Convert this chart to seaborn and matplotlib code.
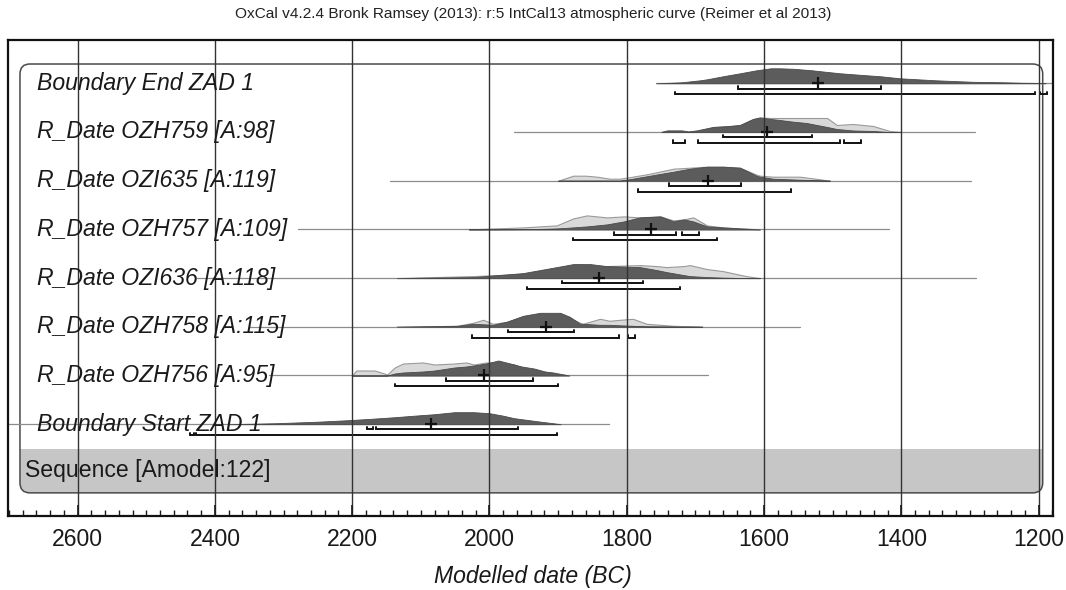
import matplotlib
matplotlib.use("Agg")
import matplotlib.pyplot as plt
import seaborn as sns
import pandas as pd
from matplotlib.patches import FancyBboxPatch, Rectangle
from matplotlib.ticker import MultipleLocator

TITLE = "OxCal v4.2.4 Bronk Ramsey (2013): r:5 IntCal13 atmospheric curve (Reimer et al 2013)"
XLABEL = "Modelled date (BC)"
SEQUENCE_LABEL = "Sequence [Amodel:122]"

LABELS = ["Boundary End ZAD 1", "R_Date OZH759 [A:98]", "R_Date OZI635 [A:119]",
          "R_Date OZH757 [A:109]", "R_Date OZI636 [A:118]", "R_Date OZH758 [A:115]",
          "R_Date OZH756 [A:95]", "Boundary Start ZAD 1"]
MEANS = [1522, 1596, 1682, 1765, 1840, 1918, 2008, 2085]
LINE_FROM = [1757, 1964, 2145, 2279, 2426, 2350, 2321, 2701]
LINE_TO = [1179, 1293, 1298, 1418, 1291, 1547, 1682, 1826]
RANGE68 = [[(1638, 1430)], [(1660, 1530)], [(1739, 1634)],
           [(1818, 1728), (1720, 1695)], [(1895, 1777)], [(1973, 1877)],
           [(2063, 1937)], [(2178, 2169), (2165, 1959)]]
RANGE95 = [[(1730, 1205), (1198, 1188)], [(1733, 1715), (1696, 1489), (1483, 1458)],
           [(1783, 1560)], [(1879, 1668)], [(1945, 1722)],
           [(2025, 1811), (1798, 1788)], [(2138, 1900)], [(2436, 2430), (2428, 1902)]]

# probability heights (pixels), unmodelled (lik) and modelled (post)
END_YEARS = [1757, 1720, 1693, 1683, 1660, 1635, 1611, 1590, 1577, 1557, 1530, 1510,
             1489, 1460, 1430, 1402, 1350, 1296, 1250, 1223, 1190]
END_POST = [0, 1, 3, 4, 7, 10, 13, 15, 15, 14.5, 13, 11.5, 10, 8.5, 7, 5, 3, 1.5, 1, 0.5, 0.3]

OZH759_YEARS = [1750, 1741, 1720, 1710, 1698, 1674, 1650, 1635, 1616, 1606, 1590, 1577,
                1560, 1538, 1508, 1494, 1470, 1441, 1417, 1400]
OZH759_LIK = [0, 1.5, 1.5, 0.5, 1.5, 5, 6, 7, 13, 14.5, 14, 14, 14, 14, 14, 7, 8, 6, 1, 0]
OZH759_POST = [0, 1.5, 1.5, 0.5, 1.5, 5, 6, 7, 13, 14.5, 13, 12, 10.5, 9, 5, 3, 1.5, 1, 0, 0]

OZI635_YEARS = [1900, 1878, 1860, 1843, 1825, 1810, 1800, 1766, 1732, 1708, 1683, 1660,
                1635, 1611, 1606, 1587, 1548, 1525, 1504]
OZI635_LIK = [0, 5, 5, 4, 2, 2, 3, 7, 12, 13, 14, 14, 13, 6, 5, 4, 4, 2, 0]
OZI635_POST = [0, 0, 0, 0, 0, 0, 1, 5, 9, 12, 14, 14, 13, 5, 4, 2, 1, 0.5, 0]

OZH757_YEARS = [2030, 1951, 1926, 1902, 1878, 1858, 1829, 1804, 1781, 1751, 1732, 1717,
                1703, 1683, 1660, 1635, 1606]
OZH757_LIK = [0, 2, 3, 4, 11, 14, 12, 13, 12, 13, 9, 10, 12, 4, 2, 1, 0]
OZH757_POST = [0, 0.3, 0.5, 1, 2, 3, 5, 8, 12, 13, 8, 10, 8, 3, 2, 1, 0]

OZI636_YEARS = [2135, 2024, 1951, 1902, 1878, 1853, 1829, 1781, 1756, 1742, 1717, 1708,
                1683, 1660, 1626, 1606]
OZI636_LIK = [0, 2, 4, 6, 9, 11, 12, 13, 12, 11, 12, 13, 9, 7, 2, 0]
OZI636_POST = [0, 1, 5, 11, 14, 14, 12, 11, 8, 6, 3, 2, 1, 0.5, 0, 0]

OZH758_YEARS = [2135, 2047, 2024, 2009, 1995, 1975, 1951, 1926, 1897, 1883, 1868, 1864,
                1839, 1825, 1810, 1791, 1771, 1732, 1690]
OZH758_LIK = [0, 1, 4, 7, 3, 5, 10, 13, 13, 9, 4, 3, 8, 6, 7, 8, 3, 1, 0]
OZH758_POST = [0, 1, 3, 2.5, 2, 5, 11, 14, 14, 10, 3, 3, 2, 2, 1.5, 1, 0.5, 0.3, 0]

OZH756_YEARS = [2200, 2194, 2167, 2149, 2138, 2126, 2097, 2080, 2051, 2034, 2023, 2005,
                1987, 1964, 1953, 1935, 1919, 1907, 1884]
OZH756_LIK = [0, 5, 5, 1, 8, 12, 13, 11, 12, 13, 11, 13, 13, 11, 7, 5, 3, 2, 0]
OZH756_POST = [0, 0, 0, 0, 2, 3, 4, 5, 8, 9, 10, 12, 15, 11, 9, 7, 4, 3, 0]

START_YEARS = [2379, 2310, 2250, 2206, 2170, 2138, 2110, 2080, 2051, 2023, 2000, 1980,
               1964, 1931, 1896]
START_POST = [0, 1, 2.5, 4, 5.5, 7, 8.5, 10, 12, 12, 11, 8.5, 6, 3, 0]

ROWS = [
    (END_YEARS, None, END_POST),
    (OZH759_YEARS, OZH759_LIK, OZH759_POST),
    (OZI635_YEARS, OZI635_LIK, OZI635_POST),
    (OZH757_YEARS, OZH757_LIK, OZH757_POST),
    (OZI636_YEARS, OZI636_LIK, OZI636_POST),
    (OZH758_YEARS, OZH758_LIK, OZH758_POST),
    (OZH756_YEARS, OZH756_LIK, OZH756_POST),
    (START_YEARS, None, START_POST),
]

sns.set_theme(style="white")
plt.rcParams["font.family"] = ["Liberation Sans", "DejaVu Sans"]

fig = plt.figure(figsize=(10.66, 5.9), dpi=100)
ax = fig.add_axes([8.3 / 1066, 1 - 516 / 590, (1053 - 8.3) / 1066, 476 / 590])
ax.set_xlim(2701, 1179)
ax.set_ylim(8.885, -0.889)

PX = 1 / 48.7  # one pixel in row units

# rounded sequence box with grey band at the bottom
mut = (10 * PX) / 14.6
band = FancyBboxPatch((1194, 7.51), 2684 - 1194, 8.41 - 7.51,
                      boxstyle="round,pad=0,rounding_size=14.6", mutation_aspect=mut,
                      facecolor="#c6c6c6", edgecolor="none", zorder=0.5)
ax.add_patch(band)
ax.add_patch(Rectangle((1194, 7.51), 2684 - 1194, 0.4, facecolor="#c6c6c6",
                       edgecolor="none", zorder=0.5))
box = FancyBboxPatch((1194, -0.396), 2684 - 1194, 8.41 + 0.396,
                     boxstyle="round,pad=0,rounding_size=14.6", mutation_aspect=mut,
                     facecolor="none", edgecolor="#4a4a4a", linewidth=1.1, zorder=0.6)
ax.add_patch(box)

for i, (years, lik, post) in enumerate(ROWS):
    ax.plot([LINE_FROM[i], LINE_TO[i]], [i, i], color="#8c8c8c", lw=0.9, zorder=1.2)
    if lik is not None:
        ax.fill_between(years, i, [i - v * PX for v in lik], facecolor="#d9d9d9",
                        edgecolor="#9a9a9a", linewidth=0.8, zorder=1.3)
    ax.fill_between(years, i, [i - v * PX for v in post], facecolor="#5c5c5c",
                    edgecolor="#4a4a4a", linewidth=0.6, zorder=1.4)
    for ranges, off in ((RANGE68[i], 5.3), (RANGE95[i], 11)):
        yb = i + off * PX
        for a, b in ranges:
            ax.plot([a, a, b, b], [yb - 2.5 * PX, yb, yb, yb - 2.5 * PX],
                    color="#111111", lw=1.4, solid_joinstyle="miter", zorder=2)
    ax.text(2659, i, LABELS[i], ha="left", va="center", style="italic",
            fontsize=16.6, color="#1a1a1a", zorder=3)

means = pd.DataFrame({"mean": MEANS, "row": range(len(MEANS))})
sns.scatterplot(data=means, x="mean", y="row", marker="+", s=75, color="#111111",
                linewidth=1.6, ax=ax, zorder=2.2, legend=False)

ax.text(2677, 7.96, SEQUENCE_LABEL, ha="left", va="center", fontsize=16.6,
        color="#1a1a1a", zorder=3)

ax.xaxis.set_major_locator(MultipleLocator(200))
ax.xaxis.set_minor_locator(MultipleLocator(20))
ax.set_yticks([])
ax.set_xlabel("")
ax.set_ylabel("")
ax.grid(axis="x", which="major", color="#333333", linewidth=1.0)
ax.set_axisbelow(False)
ax.tick_params(axis="x", which="major", direction="in", length=8, width=1.2,
               labelsize=16.6, pad=9, colors="#1a1a1a", bottom=True, top=False)
ax.tick_params(axis="x", which="minor", direction="in", length=4.5, width=1.0,
               bottom=True, top=False, colors="#1a1a1a")
for sp in ax.spines.values():
    sp.set_color("#111111")
    sp.set_linewidth(1.6)
    sp.set_zorder(4)

fig.text(0.5, 1 - 14 / 590, TITLE, ha="center", va="center", fontsize=11.1, color="#222222")
fig.text(0.5, 1 - 577 / 590, XLABEL, ha="center", va="center", style="italic",
         fontsize=16.6, color="#1a1a1a")

fig.savefig("out.png", dpi=100)
